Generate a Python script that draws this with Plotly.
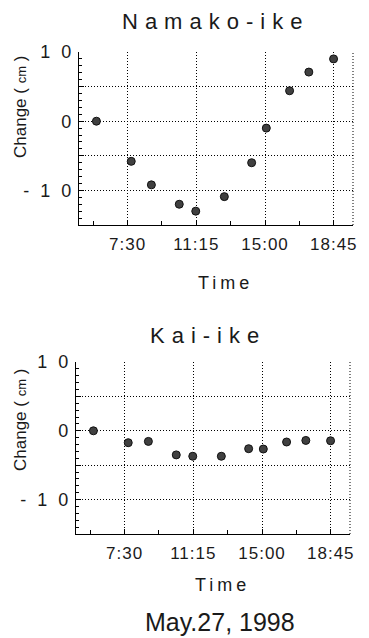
import plotly.graph_objects as go

# time in decimal hours
times = [5.8, 7.7, 8.8, 10.32, 11.22, 12.78, 14.27, 15.07, 16.34, 17.39, 18.74]
namako = [0.0, -5.8, -9.2, -12.0, -13.0, -10.9, -6.0, -1.0, 4.4, 7.1, 9.0]
kai = [0.0, -1.73, -1.54, -3.5, -3.7, -3.7, -2.6, -2.65, -1.63, -1.4, -1.45]

x_tickvals = [7.5, 11.25, 15.0, 18.75]
x_ticktext = ["7:30", "11:15", "15:00", "18:45"]
y_tickvals = [-15, -10, -5, 0, 5, 10]
y_ticktext = ["", "- 1 0", "", "0", "", "1 0"]

FONT = "Liberation Sans, Arial, sans-serif"
INK = "#1a1a1a"

fig = go.Figure()
mk = dict(size=8, color="#404040", line=dict(color="#111", width=1))
fig.add_trace(go.Scatter(x=times, y=namako, mode="markers", marker=mk,
                         xaxis="x", yaxis="y", showlegend=False))
fig.add_trace(go.Scatter(x=times, y=kai, mode="markers", marker=mk,
                         xaxis="x2", yaxis="y2", showlegend=False))

def xax(domain, anchor):
    return dict(domain=domain, anchor=anchor, range=[4.85, 19.8],
                tickvals=x_tickvals,
                ticktext=[f"<span style='letter-spacing:1px'>{t}</span>" for t in x_ticktext],
                showgrid=True, gridcolor="#000", griddash="1px,2px", gridwidth=1,
                showline=True, linecolor="#000", linewidth=1.2,
                ticks="inside", ticklen=5, tickcolor="#000",
                minor=dict(tick0=5.625, dtick=3.75, ticks="inside", ticklen=4,
                           tickcolor="#000", showgrid=False),
                tickfont=dict(family=FONT, size=17, color=INK),
                ticklabelstandoff=3, zeroline=False, fixedrange=True,
                automargin=False)

def yax(domain, anchor):
    return dict(domain=domain, anchor=anchor, range=[-15, 10],
                tickvals=y_tickvals,
                ticktext=[f"<span style='letter-spacing:3px'>{t}</span>" if t else ""
                          for t in y_ticktext],
                showgrid=True, gridcolor="#000", griddash="1px,2px", gridwidth=1,
                showline=True, linecolor="#000", linewidth=1.2,
                ticks="inside", ticklen=5, tickcolor="#000",
                minor=dict(dtick=1, ticks="inside", ticklen=3, tickcolor="#000",
                           showgrid=False),
                tickfont=dict(family=FONT, size=18, color=INK),
                ticklabelstandoff=0, zeroline=False, fixedrange=True,
                automargin=False)

fig.update_layout(
    width=369, height=638,
    margin=dict(l=0, r=0, t=0, b=0, autoexpand=False),
    paper_bgcolor="white", plot_bgcolor="white",
    xaxis=xax([79/369, 353/369], "y"),
    yaxis=yax([1-225/638, 1-52/638], "x"),
    xaxis2=xax([76/369, 350/369], "y2"),
    yaxis2=yax([1-534/638, 1-362/638], "x2"),
)

# dotted right frame edges
for xr, yr in [("x domain", "y domain"), ("x2 domain", "y2 domain")]:
    fig.add_shape(type="line", xref=xr, yref=yr, x0=1, x1=1, y0=0, y1=1,
                  line=dict(color="#000", width=1, dash="1px,2px"))

def ann(text, x, y, size, angle=0, spacing=None):
    if spacing:
        text = f"<span style='letter-spacing:{spacing}px'>{text}</span>"
    fig.add_annotation(text=text, x=x/369, y=1-y/638, xref="paper", yref="paper",
                       xanchor="center", yanchor="middle", showarrow=False,
                       textangle=angle,
                       font=dict(family=FONT, size=size, color=INK))

ann("Namako-ike", 215.5, 22, 22, spacing=7)
ann("Kai-ike", 207.5, 335, 22, spacing=7)
ann("Time", 225, 283, 18, spacing=4)
ann("Time", 222, 585, 18, spacing=4)
ann("May.27, 1998", 220, 622, 25)
ann("Change ( <span style='font-size:13px'>cm</span> )", 20, 107, 17, angle=-90)
ann("Change ( <span style='font-size:13px'>cm</span> )", 20, 420, 17, angle=-90)

fig.write_html("out.html", config={"displayModeBar": False},
               post_script="document.body.style.margin='0';")
